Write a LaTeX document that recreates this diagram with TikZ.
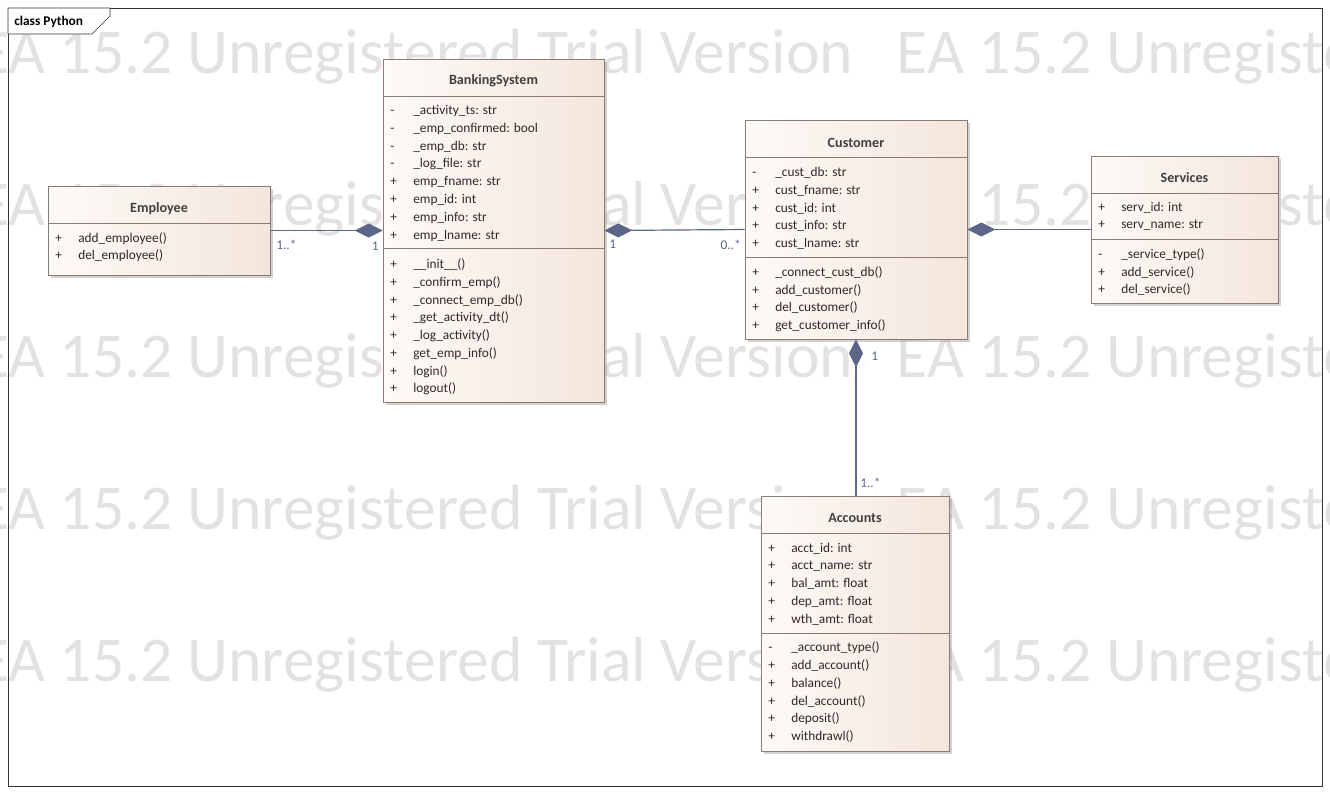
\documentclass[tikz,border=0pt]{standalone}
\usepackage{fontspec}
\setmainfont{Carlito}
\usetikzlibrary{arrows.meta,shadows,positioning}

\definecolor{boxline}{HTML}{8C7B75}
\definecolor{clsL}{HTML}{FDFAF7}
\definecolor{clsR}{HTML}{F3E6DC}
\definecolor{assoc}{HTML}{5C6687}
\definecolor{wmark}{HTML}{E4E1E1}
\definecolor{memtext}{HTML}{332626}

\tikzset{
  classbox/.style={draw=boxline, left color=clsL, right color=clsR, inner sep=0pt,
    drop shadow={shadow xshift=2pt, shadow yshift=-2pt, fill=black!40, opacity=.45}},
  divider/.style={draw=boxline},
  clstitle/.style={inner sep=0pt, yshift=-1.2pt, font=\bfseries\fontsize{10.6}{12}\selectfont, text=black!75},
  member/.style={anchor=west, inner sep=0pt, yshift=-1.2pt, font=\fontsize{10}{12}\selectfont, text=memtext},
  mult/.style={inner sep=0pt, yshift=-1pt, font=\fontsize{10}{12}\selectfont, text=assoc},
  comp/.style={draw=assoc, line width=.9pt, {Diamond[length=21pt,width=10.5pt]}-},
  wmtext/.style={anchor=west, inner sep=0pt, font=\fontsize{47.8}{52}\selectfont, text=wmark}
}

\begin{document}
\begin{tikzpicture}[x=0.75pt,y=-0.75pt]
    \useasboundingbox (0,0) rectangle (1330,794);

    % watermark
    \begin{scope}
    \clip (0,0) rectangle (1330,794);
    \node[wmtext] (wm1) at (-22,57) {EA 15.2 Unregistered Trial Version\hspace{33pt}EA 15.2 Unregistered Trial Version};
    \node[wmtext] (wm2) at (-22,209) {EA 15.2 Unregistered Trial Version\hspace{33pt}EA 15.2 Unregistered Trial Version};
    \node[wmtext] (wm3) at (-22,361) {EA 15.2 Unregistered Trial Version\hspace{33pt}EA 15.2 Unregistered Trial Version};
    \node[wmtext] (wm4) at (-22,513) {EA 15.2 Unregistered Trial Version\hspace{33pt}EA 15.2 Unregistered Trial Version};
    \node[wmtext] (wm5) at (-22,665) {EA 15.2 Unregistered Trial Version\hspace{33pt}EA 15.2 Unregistered Trial Version};
    \end{scope}

    % diagram frame
    \draw[black!80] (8,8) rectangle (1322,786);
    \draw[black!80, fill=white] (8,8) -- (110,8) -- (110,16) -- (92,34) -- (8,34) -- cycle;
    \node[anchor=west, inner sep=0pt, yshift=-.8pt, font=\bfseries\fontsize{10}{12}\selectfont] (frametitle) at (14,21) {class Python};

    % Employee
    \node[classbox, minimum width=166.5pt, minimum height=66.75pt] (emp) at (159,230.5) {};
    \node[clstitle] (empT) at (159,207) {Employee};
    \draw[divider] (48,223) -- (270,223);
    \node[member] (emp1) at (55,237) {\makebox[17.25pt][l]{+}add\_employee()};
    \node[member] (emp2) at (55,254) {\makebox[17.25pt][l]{+}del\_employee()};

    % BankingSystem
    \node[classbox, minimum width=165.75pt, minimum height=257.25pt] (bank) at (493.5,230.5) {};
    \node[clstitle] (bankT) at (493.5,79) {BankingSystem};
    \draw[divider] (383,96) -- (604,96);
    \draw[divider] (383,248) -- (604,248);
    \node[member] (bank1) at (390,109) {\makebox[17.25pt][l]{-}\_activity\_ts: str};
    \node[member] (bank2) at (390,127) {\makebox[17.25pt][l]{-}\_emp\_confirmed: bool};
    \node[member] (bank3) at (390,145) {\makebox[17.25pt][l]{-}\_emp\_db: str};
    \node[member] (bank4) at (390,162) {\makebox[17.25pt][l]{-}\_log\_file: str};
    \node[member] (bank5) at (390,180) {\makebox[17.25pt][l]{+}emp\_fname: str};
    \node[member] (bank6) at (390,198) {\makebox[17.25pt][l]{+}emp\_id: int};
    \node[member] (bank7) at (390,216) {\makebox[17.25pt][l]{+}emp\_info: str};
    \node[member] (bank8) at (390,234) {\makebox[17.25pt][l]{+}emp\_lname: str};
    \node[member] (bank9) at (390,263) {\makebox[17.25pt][l]{+}\_\_init\_\_()};
    \node[member] (bank10) at (390,281) {\makebox[17.25pt][l]{+}\_confirm\_emp()};
    \node[member] (bank11) at (390,299) {\makebox[17.25pt][l]{+}\_connect\_emp\_db()};
    \node[member] (bank12) at (390,316) {\makebox[17.25pt][l]{+}\_get\_activity\_dt()};
    \node[member] (bank13) at (390,334) {\makebox[17.25pt][l]{+}\_log\_activity()};
    \node[member] (bank14) at (390,352) {\makebox[17.25pt][l]{+}get\_emp\_info()};
    \node[member] (bank15) at (390,370) {\makebox[17.25pt][l]{+}login()};
    \node[member] (bank16) at (390,387) {\makebox[17.25pt][l]{+}logout()};

    % Customer
    \node[classbox, minimum width=166.5pt, minimum height=164.25pt] (cust) at (856,229.5) {};
    \node[clstitle] (custT) at (856,141) {Customer};
    \draw[divider] (745,157) -- (967,157);
    \draw[divider] (745,257) -- (967,257);
    \node[member] (cust1) at (752,171) {\makebox[17.25pt][l]{-}\_cust\_db: str};
    \node[member] (cust2) at (752,189) {\makebox[17.25pt][l]{+}cust\_fname: str};
    \node[member] (cust3) at (752,207) {\makebox[17.25pt][l]{+}cust\_id: int};
    \node[member] (cust4) at (752,224) {\makebox[17.25pt][l]{+}cust\_info: str};
    \node[member] (cust5) at (752,242) {\makebox[17.25pt][l]{+}cust\_lname: str};
    \node[member] (cust6) at (752,271) {\makebox[17.25pt][l]{+}\_connect\_cust\_db()};
    \node[member] (cust7) at (752,289) {\makebox[17.25pt][l]{+}add\_customer()};
    \node[member] (cust8) at (752,306) {\makebox[17.25pt][l]{+}del\_customer()};
    \node[member] (cust9) at (752,324) {\makebox[17.25pt][l]{+}get\_customer\_info()};

    % Services
    \node[classbox, minimum width=140.25pt, minimum height=110.25pt] (serv) at (1184.5,229.5) {};
    \node[clstitle] (servT) at (1184.5,176) {Services};
    \draw[divider] (1091,193) -- (1278,193);
    \draw[divider] (1091,239) -- (1278,239);
    \node[member] (serv1) at (1098,206) {\makebox[17.25pt][l]{+}serv\_id: int};
    \node[member] (serv2) at (1098,224) {\makebox[17.25pt][l]{+}serv\_name: str};
    \node[member] (serv3) at (1098,253) {\makebox[17.25pt][l]{-}\_service\_type()};
    \node[member] (serv4) at (1098,271) {\makebox[17.25pt][l]{+}add\_service()};
    \node[member] (serv5) at (1098,288) {\makebox[17.25pt][l]{+}del\_service()};

    % Accounts
    \node[classbox, minimum width=141pt, minimum height=191.25pt] (acct) at (855,623.5) {};
    \node[clstitle] (acctT) at (855,516) {Accounts};
    \draw[divider] (761,533) -- (949,533);
    \draw[divider] (761,633) -- (949,633);
    \node[member] (acct1) at (768,547) {\makebox[17.25pt][l]{+}acct\_id: int};
    \node[member] (acct2) at (768,565) {\makebox[17.25pt][l]{+}acct\_name: str};
    \node[member] (acct3) at (768,582) {\makebox[17.25pt][l]{+}bal\_amt: float};
    \node[member] (acct4) at (768,600) {\makebox[17.25pt][l]{+}dep\_amt: float};
    \node[member] (acct5) at (768,618) {\makebox[17.25pt][l]{+}wth\_amt: float};
    \node[member] (acct6) at (768,646) {\makebox[17.25pt][l]{-}\_account\_type()};
    \node[member] (acct7) at (768,664) {\makebox[17.25pt][l]{+}add\_account()};
    \node[member] (acct8) at (768,682) {\makebox[17.25pt][l]{+}balance()};
    \node[member] (acct9) at (768,700) {\makebox[17.25pt][l]{+}del\_account()};
    \node[member] (acct10) at (768,717) {\makebox[17.25pt][l]{+}deposit()};
    \node[member] (acct11) at (768,735) {\makebox[17.25pt][l]{+}withdrawl()};

    % compositions
    \draw[comp] (bank.west) -- (emp.east);
    \draw[comp] (bank.east) -- (cust.west);
    \draw[comp] (cust.east) -- (serv.west);
    \draw[comp] (cust.south) -- (cust.south |- acct.north);

    % multiplicities
    \node[mult, anchor=west] (mEmp) at (276,243) {1..*};
    \node[mult, anchor=east] (mBank1) at (379,245) {1};
    \node[mult, anchor=west] (mBank2) at (609,243) {1};
    \node[mult, anchor=east] (mCust1) at (741,243) {0..*};
    \node[mult, anchor=west] (mCust2) at (871,355) {1};
    \node[mult, anchor=west] (mAcct) at (860,481) {1..*};
\end{tikzpicture}
\end{document}
